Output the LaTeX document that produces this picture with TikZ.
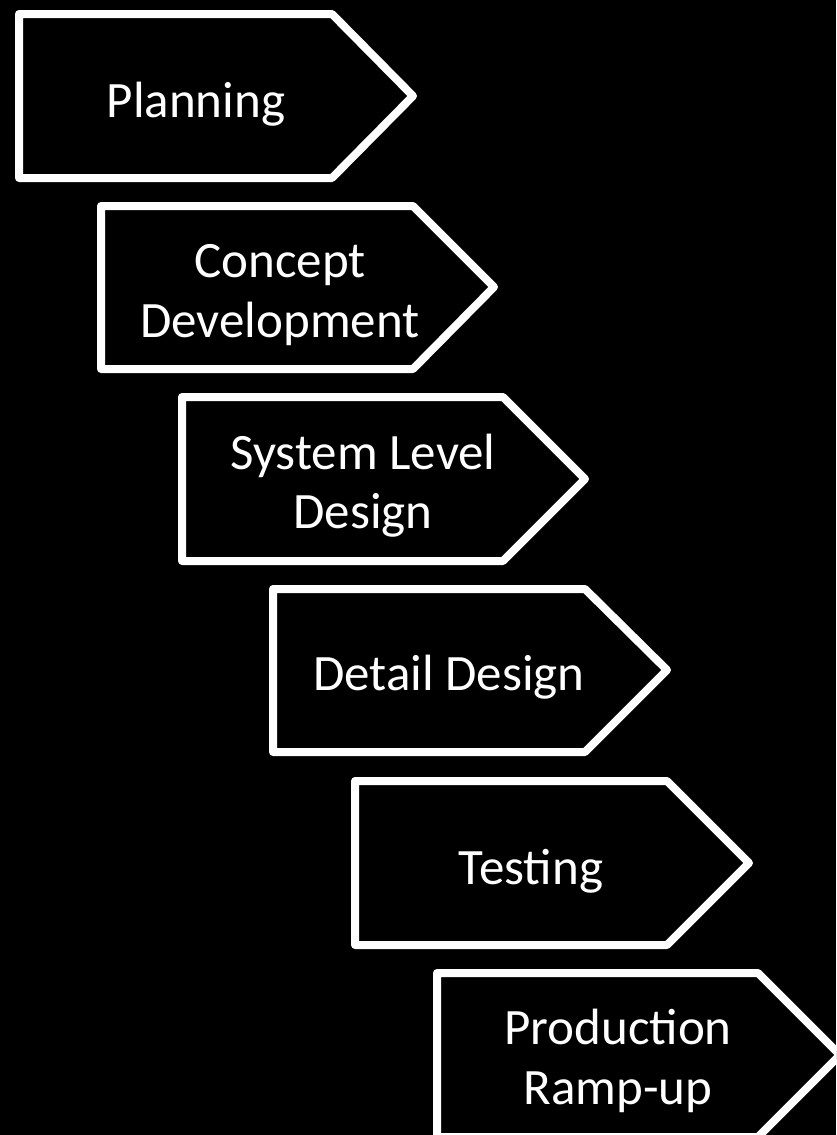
\documentclass[tikz,border=0pt]{standalone}
\usepackage{fontspec}
\setmainfont{Carlito}
\begin{document}
\begin{tikzpicture}[x=1pt,y=-1pt,
  stage/.style={draw=white,line width=8pt,line join=round,fill=black},
  lbl/.style={text=white,font=\fontsize{51}{61}\selectfont,anchor=base,inner sep=0pt}]
\fill[black] (0,0) rectangle (836,1135);
\useasboundingbox (0,0) rectangle (836,1135);
\clip (0,0) rectangle (836,1135);
% stages
\draw[stage] (19,14) -- (332,14) -- (413,96) -- (332,178) -- (19,178) -- cycle;
\draw[stage] (101,206) -- (413,206) -- (494,287) -- (413,369) -- (101,369) -- cycle;
\draw[stage] (182,397) -- (503,397) -- (585,479) -- (503,561) -- (182,561) -- cycle;
\draw[stage] (273,589) -- (585,589) -- (667,670) -- (585,752) -- (273,752) -- cycle;
\draw[stage] (355,781) -- (667,781) -- (749,863) -- (667,945) -- (355,945) -- cycle;
\draw[stage] (437,973) -- (758,973) -- (840,1055) -- (758,1137) -- (437,1137) -- cycle;
% labels
\node[lbl] (t1) at (196,117) {Planning};
\node[lbl] (t2a) at (280,277) {Concept};
\node[lbl] (t2b) at (280,337) {Development};
\node[lbl] (t3a) at (363,469) {System Level};
\node[lbl] (t3b) at (363,528) {Design};
\node[lbl] (t4) at (449,690) {Detail Design};
\node[lbl] (t5) at (531,884) {Testing};
\node[lbl] (t6a) at (618,1044) {Production};
\node[lbl] (t6b) at (618,1104) {Ramp-up};
\end{tikzpicture}
\end{document}
